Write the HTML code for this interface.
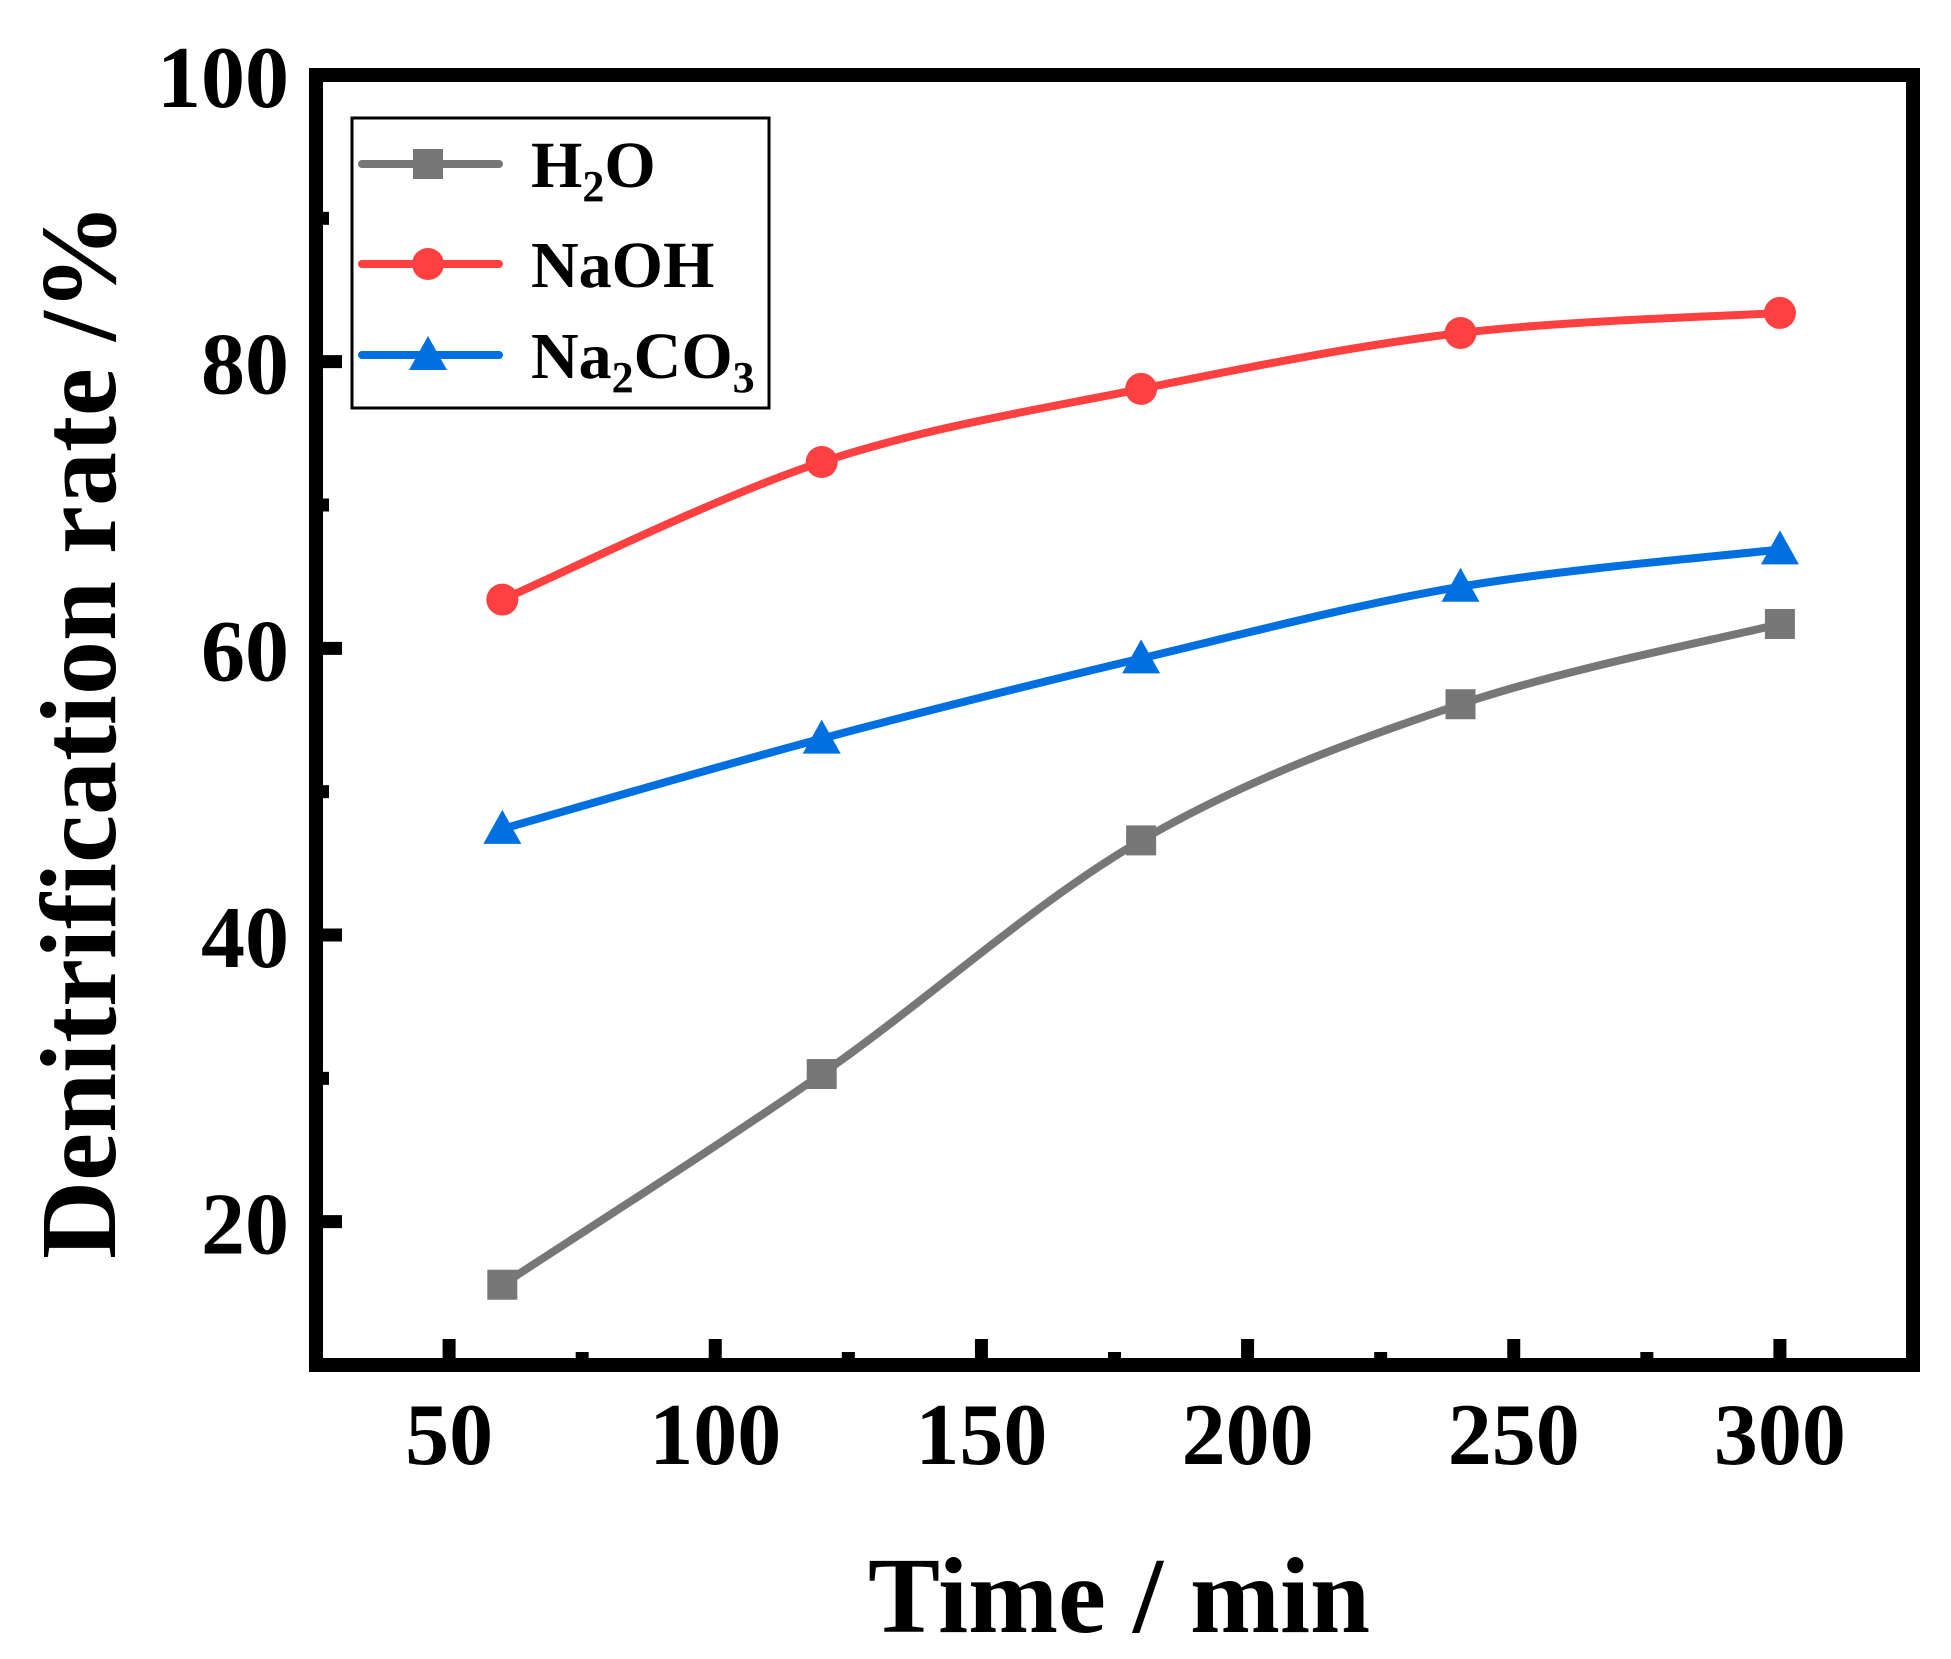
<!DOCTYPE html>
<html><head><meta charset="utf-8"><style>
html,body{margin:0;padding:0;background:#fff;}
svg{display:block;}
svg text{font-family:"Liberation Serif","Times New Roman",serif;font-weight:700;}
</style></head><body>
<svg id="chart" width="1951" height="1659" viewBox="0 0 1951 1659" xmlns="http://www.w3.org/2000/svg" font-family="Liberation Serif, Times New Roman, serif" font-weight="bold">
<g id="grid"></g>
<g id="series"></g>
<rect x="316" y="75" width="1597" height="1290" fill="none" stroke="#000" stroke-width="14"/>
<g id="ticks"></g>
<g>
<rect x="352" y="118" width="417" height="290" fill="#fff" stroke="#000" stroke-width="3"/>
<g id="legend-items"></g>
</g>
<text x="1119" y="1632" font-size="108" text-anchor="middle">Time / min</text>
<text transform="translate(115,731) rotate(-90)" font-size="108" text-anchor="middle">Denitrification rate /%</text>
</svg>
<script>
const times = [60, 120, 180, 240, 300];
const h2oValues = [15.6, 30.3, 46.6, 56.1, 61.7];
const naohValues = [63.4, 73.0, 78.1, 82.0, 83.4];
const na2co3Values = [47.4, 53.7, 59.3, 64.3, 66.9];
const xTickLabels = [50, 100, 150, 200, 250, 300];
const xMinorTicks = [75, 125, 175, 225, 275];
const yTickLabels = [20, 40, 60, 80, 100];
const yMinorTicks = [30, 50, 70, 90];

const NS = "http://www.w3.org/2000/svg";
const X0 = 316, X1 = 1913, Y0 = 1365, Y1 = 75;
const xMin = 25, xMax = 325, yMin = 10, yMax = 100;
function sx(v){ return X0 + (v - xMin) / (xMax - xMin) * (X1 - X0); }
function sy(v){ return Y0 - (v - yMin) / (yMax - yMin) * (Y0 - Y1); }
function mk(tag, attrs, parent){ const e = document.createElementNS(NS, tag); for (const k in attrs) e.setAttribute(k, attrs[k]); parent.appendChild(e); return e; }

const ticks = document.getElementById('ticks');
xTickLabels.forEach(v => {
  const l = mk('line', {x1: sx(v), x2: sx(v), y1: Y0, y2: Y0 - 26, stroke: '#000', 'stroke-width': 13}, ticks);
  
  
  const t = mk('text', {x: sx(v), y: 1464, 'font-size': 88, 'text-anchor': 'middle'}, ticks);
  t.textContent = v;
  
  
});
xMinorTicks.forEach(v => {
  const l = mk('line', {x1: sx(v), x2: sx(v), y1: Y0, y2: Y0 - 13, stroke: '#000', 'stroke-width': 13}, ticks);
  
  
});
yTickLabels.forEach(v => {
  const l = mk('line', {x1: X0, x2: X0 + 26, y1: sy(v), y2: sy(v), stroke: '#000', 'stroke-width': 13}, ticks);
  
  
  const t = mk('text', {x: 289, y: sy(v) + 32, 'font-size': 88, 'text-anchor': 'end'}, ticks);
  t.textContent = v;
  
  
});
yMinorTicks.forEach(v => {
  const l = mk('line', {x1: X0, x2: X0 + 13, y1: sy(v), y2: sy(v), stroke: '#000', 'stroke-width': 13}, ticks);
  
  
});

function splinePath(xs, ys){
  const p = xs.map((x, i) => [sx(x), sy(ys[i])]);
  let d = 'M' + p[0][0] + ',' + p[0][1];
  for (let i = 0; i < p.length - 1; i++) {
    const p0 = p[i - 1] || p[i], p1 = p[i], p2 = p[i + 1], p3 = p[i + 2] || p2;
    const c1 = [p1[0] + (p2[0] - p0[0]) / 6, p1[1] + (p2[1] - p0[1]) / 6];
    const c2 = [p2[0] - (p3[0] - p1[0]) / 6, p2[1] - (p3[1] - p1[1]) / 6];
    d += ' C' + c1[0] + ',' + c1[1] + ' ' + c2[0] + ',' + c2[1] + ' ' + p2[0] + ',' + p2[1];
  }
  return d;
}
function marker(shape, cx, cy, color, parent){
  let m;
  if (shape === 'square') m = mk('rect', {x: cx - 15, y: cy - 15, width: 30, height: 30, fill: color}, parent);
  else if (shape === 'circle') m = mk('circle', {cx: cx, cy: cy, r: 16, fill: color}, parent);
  else m = mk('polygon', {points: (cx) + ',' + (cy - 19) + ' ' + (cx - 19) + ',' + (cy + 15) + ' ' + (cx + 19) + ',' + (cy + 15), fill: color}, parent);
  return m;
}
const seriesG = document.getElementById('series');
const seriesDefs = [
  {name: 'h2o', vals: h2oValues, color: '#777777', shape: 'square'},
  {name: 'na2co3', vals: na2co3Values, color: '#0070E0', shape: 'triangle'},
  {name: 'naoh', vals: naohValues, color: '#FF4040', shape: 'circle'}
];
seriesDefs.forEach(s => {
  const path = mk('path', {d: splinePath(times, s.vals), fill: 'none', stroke: s.color, 'stroke-width': 8, 'stroke-linecap': 'round'}, seriesG);
  
  
  times.forEach((t, i) => {
    const m = marker(s.shape, sx(t), sy(s.vals[i]), s.color, seriesG);
    
    
  });
});

const leg = document.getElementById('legend-items');
const legendRows = [
  {label: 'H<tspan font-size="44" dy="14">2</tspan><tspan dy="-14">O</tspan>', color: '#777777', shape: 'square', y: 164, name: 'legend-h2o'},
  {label: 'NaOH', color: '#FF4040', shape: 'circle', y: 264, name: 'legend-naoh'},
  {label: 'Na<tspan font-size="44" dy="14">2</tspan><tspan dy="-14">CO</tspan><tspan font-size="44" dy="14">3</tspan>', color: '#0070E0', shape: 'triangle', y: 355, name: 'legend-na2co3'}
];
legendRows.forEach(r => {
  const g = mk('g', {}, leg);
  
  
  mk('line', {x1: 362, x2: 499, y1: r.y, y2: r.y, stroke: r.color, 'stroke-width': 8, 'stroke-linecap': 'round'}, g);
  marker(r.shape, 428, r.y, r.color, g);
  const t = mk('text', {x: 531, y: r.y + 23, 'font-size': 66}, g);
  t.innerHTML = r.label;
});
</script>
</body></html>
